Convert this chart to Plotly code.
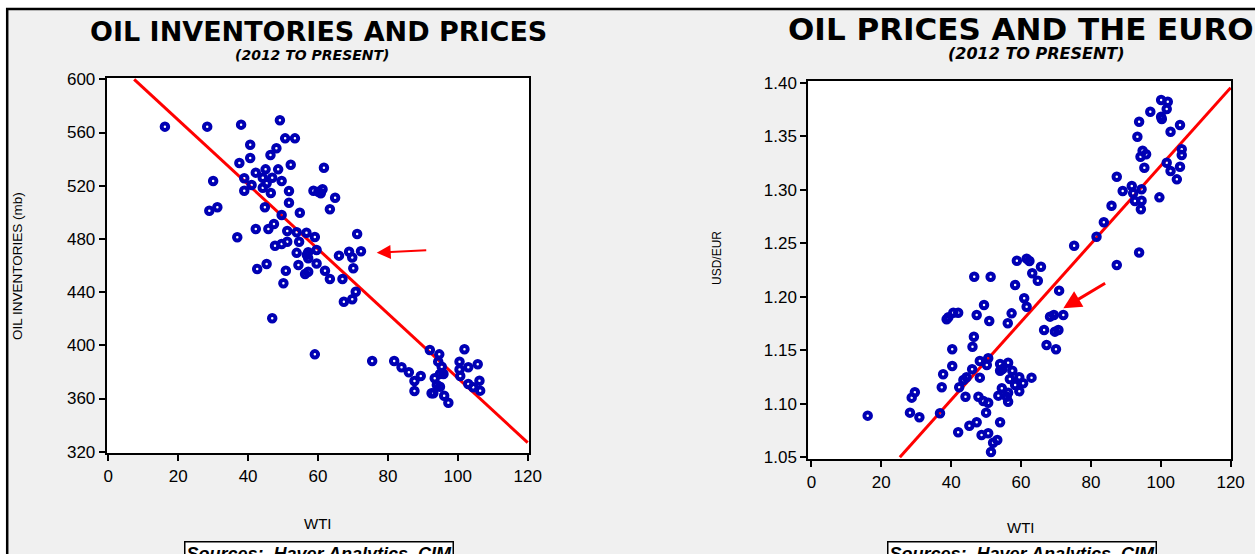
import plotly.graph_objects as go

# ---------------- data ----------------
inv_wti = [16.2, 28.3, 38.0, 49.1, 50.6, 53.4, 40.6, 48.1, 46.4, 40.6, 37.5, 52.2, 42.2, 45.0, 48.6,
           30.0, 38.9, 44.2, 46.9, 49.6, 45.3, 41.0, 44.2, 46.5, 38.9, 51.7, 58.7, 60.1, 61.3, 61.7,
           64.9, 63.4, 54.8, 28.9, 31.2, 51.7, 44.8, 49.6, 47.4, 45.8, 42.2, 51.2, 36.9, 53.9, 56.7,
           59.1, 54.6, 47.7, 49.6, 51.2, 53.9, 57.2, 59.6, 57.2, 56.8, 59.6, 54.4, 57.2, 56.3, 42.6,
           45.3, 50.8, 50.1, 46.9, 59.1, 60.8, 71.2, 66.0, 68.9, 69.8, 72.3, 62.0, 63.4, 67.0, 70.1,
           70.8, 69.8, 67.4, 75.5, 81.8, 83.9, 86.0, 89.4, 87.6, 87.6, 92.0, 94.7, 94.4, 95.4, 94.9,
           93.4, 94.0, 93.0, 96.1, 97.3, 95.9, 94.9, 92.5, 101.9, 100.5, 103.0, 105.7, 100.5, 100.7,
           106.2, 103.0, 104.4, 106.4]
inv_mb = [564.4, 564.4, 565.9, 569.2, 555.6, 555.6, 550.8, 548.1, 543.1, 540.8, 537.1, 535.8, 529.8, 532.3, 532.3,
          523.5, 525.6, 526.0, 526.0, 523.5, 521.8, 520.5, 518.5, 514.5, 516.2, 516.0, 516.2, 515.5, 517.3, 533.5,
          511.0, 502.3, 499.7, 501.2, 503.8, 507.2, 503.8, 498.0, 491.2, 487.4, 487.4, 485.9, 481.2, 485.0, 484.6,
          481.4, 477.9, 474.9, 476.2, 477.9, 469.5, 470.0, 471.7, 465.4, 468.0, 461.5, 460.4, 455.3, 453.6, 457.4,
          461.1, 456.1, 446.6, 420.3, 393.2, 514.3, 483.7, 467.4, 470.4, 466.0, 470.7, 456.1, 449.8, 449.8, 457.9,
          440.3, 434.6, 432.8, 388.2, 388.2, 383.5, 379.7, 376.9, 373.2, 365.6, 396.5, 393.2, 387.7, 383.9, 378.4,
          375.2, 370.2, 363.9, 362.1, 356.8, 378.4, 368.9, 363.9, 397.0, 387.7, 383.5, 385.7, 381.9, 376.9,
          373.4, 370.9, 368.4, 365.9]

eur_wti = [100.1, 102.0, 101.7, 97.0, 100.1, 100.3, 105.5, 93.8, 102.8, 93.3, 94.8, 95.8, 94.2, 106.0, 106.0,
           101.7, 105.5, 102.8, 104.6, 95.3, 87.4, 91.7, 89.1, 94.5, 92.1, 92.6, 94.5, 94.3, 99.6, 85.9,
           83.7, 81.6, 75.2, 93.8, 87.4, 58.8, 61.6, 62.4, 65.7, 63.2, 64.8, 58.3, 60.9, 61.6, 70.9,
           57.3, 56.2, 68.3, 69.4, 72.1, 66.6, 69.7, 70.7, 67.3, 70.0, 56.3, 54.7, 57.5, 56.8, 59.5,
           63.0, 60.6, 58.3, 54.5, 56.3, 59.5, 55.9, 56.3, 54.0, 54.0, 53.5, 54.0, 46.6, 51.3, 49.4,
           47.3, 50.9, 38.7, 39.2, 40.6, 42.0, 46.5, 46.1, 40.3, 48.2, 50.6, 50.2, 40.3, 46.0, 37.7,
           44.4, 43.5, 48.2, 37.3, 42.3, 29.6, 28.7, 44.1, 47.8, 49.2, 50.6, 50.0, 16.1, 28.2, 30.9,
           36.8, 45.2, 47.3, 42.0, 48.7, 50.6, 52.0, 53.2, 51.4]
eur_usd = [1.3838, 1.3822, 1.3754, 1.3729, 1.3682, 1.3661, 1.3605, 1.3636, 1.3542, 1.3495, 1.3365, 1.3331, 1.3309, 1.3378, 1.3324,
           1.3253, 1.3215, 1.3175, 1.3097, 1.3206, 1.3122, 1.3035, 1.2988, 1.3004, 1.2967, 1.2895, 1.2897, 1.2817, 1.2929, 1.2851,
           1.2696, 1.2561, 1.2477, 1.2414, 1.2297, 1.2337, 1.2356, 1.2334, 1.2281, 1.2219, 1.2150, 1.2110, 1.1986, 1.1907, 1.2057,
           1.1845, 1.1752, 1.1814, 1.1830, 1.1830, 1.1689, 1.1674, 1.1689, 1.1549, 1.1509, 1.1384, 1.1325, 1.1309, 1.1232, 1.1248,
           1.1244, 1.1191, 1.1176, 1.1145, 1.1104, 1.1117, 1.1066, 1.1019, 1.1372, 1.1309, 1.1076, 1.0827, 1.2187, 1.2187, 1.1923,
           1.1830, 1.1774, 1.1789, 1.1808, 1.1851, 1.1851, 1.1627, 1.1533, 1.1509, 1.1400, 1.1425, 1.1362, 1.1353, 1.1322, 1.1276,
           1.1248, 1.1222, 1.1244, 1.1154, 1.1154, 1.1107, 1.1057, 1.1066, 1.1066, 1.1026, 1.1010, 1.0917, 1.0889, 1.0917, 1.0874,
           1.0911, 1.0795, 1.0827, 1.0734, 1.0708, 1.0724, 1.0636, 1.0662, 1.0550]

# fitted regression lines (end points)
inv_fit_wti = [7.4, 120.0]
inv_fit_mb = [600.0, 326.8]
eur_fit_wti = [25.3, 120.0]
eur_fit_usd = [1.05, 1.3953]

x_ticks = [0, 20, 40, 60, 80, 100, 120]
inv_ticks = [320, 360, 400, 440, 480, 520, 560, 600]
eur_ticks = [1.05, 1.10, 1.15, 1.20, 1.25, 1.30, 1.35, 1.40]

W, H = 1255, 554
BLUE = "#0000b4"
RED = "#ff0000"
TICKFONT = dict(family="Liberation Sans, Arial", size=17, color="black")


def px(x):
    return x / W


def py(y):
    return 1 - y / H


fig = go.Figure()
marker = dict(symbol="circle-open", size=6.5, color=BLUE, line=dict(width=4, color=BLUE))

fig.add_trace(go.Scatter(x=inv_fit_wti, y=inv_fit_mb, mode="lines", line=dict(color=RED, width=3),
                         xaxis="x", yaxis="y", showlegend=False, hoverinfo="skip"))
fig.add_trace(go.Scatter(x=inv_wti, y=inv_mb, mode="markers", marker=marker,
                         xaxis="x", yaxis="y", showlegend=False))
fig.add_trace(go.Scatter(x=eur_fit_wti, y=eur_fit_usd, mode="lines", line=dict(color=RED, width=3),
                         xaxis="x2", yaxis="y2", showlegend=False, hoverinfo="skip"))
fig.add_trace(go.Scatter(x=eur_wti, y=eur_usd, mode="markers", marker=marker,
                         xaxis="x2", yaxis="y2", showlegend=False))

axis_common = dict(showline=True, linecolor="black", linewidth=2, mirror=True, ticks="outside",
                   ticklen=6, tickwidth=2, tickcolor="black", showgrid=False, zeroline=False,
                   tickfont=TICKFONT, automargin=False)

fig.update_layout(
    template="none",
    width=W, height=H, margin=dict(l=0, r=0, t=0, b=0, pad=0), autosize=False,
    paper_bgcolor="#f0f0f0", plot_bgcolor="white",
    xaxis=dict(domain=[px(106.7), px(529.3)], range=[-0.46, 120.46], tickvals=x_ticks,
               anchor="y", **axis_common),
    yaxis=dict(domain=[py(453.3), py(77.7)], range=[318.8, 601.2], tickvals=inv_ticks,
               anchor="x", **axis_common),
    xaxis2=dict(domain=[px(808.3), px(1231)], range=[-0.9, 120.1], tickvals=x_ticks,
                anchor="y2", **axis_common),
    yaxis2=dict(domain=[py(459.3), py(80.7)], range=[1.0481, 1.4019], tickvals=eur_ticks,
                tickformat=".2f", anchor="x2", **axis_common),
)

ann = []
# titles
ann.append(dict(text="<b>OIL INVENTORIES AND PRICES</b>", x=px(318), y=py(31), xref="paper", yref="paper",
                showarrow=False, xanchor="center", yanchor="middle",
                font=dict(family="DejaVu Sans", size=27, color="black")))
ann.append(dict(text="<b><i>(2012 TO PRESENT)</i></b>", x=px(312), y=py(55), xref="paper", yref="paper",
                showarrow=False, xanchor="center", yanchor="middle",
                font=dict(family="DejaVu Sans", size=14, color="black")))
ann.append(dict(text="<b>OIL PRICES AND THE EURO</b>", x=px(786), y=py(29), xref="paper", yref="paper",
                showarrow=False, xanchor="left", yanchor="middle",
                font=dict(family="DejaVu Sans", size=31, color="black")))
ann.append(dict(text="<b><i>(2012 TO PRESENT)</i></b>", x=px(1036), y=py(53), xref="paper", yref="paper",
                showarrow=False, xanchor="center", yanchor="middle",
                font=dict(family="DejaVu Sans", size=16, color="black")))
# axis titles
ann.append(dict(text="OIL INVENTORIES (mb)", x=px(18), y=py(266), xref="paper", yref="paper",
                showarrow=False, textangle=-90, xanchor="center", yanchor="middle",
                font=dict(family="Liberation Sans, Arial", size=13.5, color="black")))
ann.append(dict(text="WTI", x=px(318), y=py(523), xref="paper", yref="paper",
                showarrow=False, xanchor="center", yanchor="middle",
                font=dict(family="Liberation Sans, Arial", size=15, color="black")))
ann.append(dict(text="USD/EUR", x=px(717), y=py(258), xref="paper", yref="paper",
                showarrow=False, textangle=-90, xanchor="center", yanchor="middle",
                font=dict(family="Liberation Sans, Arial", size=12, color="black")))
ann.append(dict(text="WTI", x=px(1021), y=py(527), xref="paper", yref="paper",
                showarrow=False, xanchor="center", yanchor="middle",
                font=dict(family="Liberation Sans, Arial", size=15, color="black")))
# sources
for cx in (319, 1022):
    ann.append(dict(text="<b><i>Sources:\u00a0 Haver Analytics, CIM</i></b>", x=px(cx), y=py(541),
                    xref="paper", yref="paper", showarrow=False, xanchor="center", yanchor="top",
                    bgcolor="white", bordercolor="black", borderwidth=1.5, borderpad=1,
                    font=dict(family="Liberation Sans, Arial", size=18, color="black")))
# arrows
ann.append(dict(x=76.8, y=469.6, ax=91.4, ay=471.6, xref="x", yref="y", axref="x", ayref="y",
                text="", showarrow=True, arrowhead=2, arrowsize=1.4, arrowwidth=2, arrowcolor=RED))
ann.append(dict(x=72.1, y=1.1892, ax=84.5, ay=1.2135, xref="x2", yref="y2", axref="x2", ayref="y2",
                text="", showarrow=True, arrowhead=2, arrowsize=1.2, arrowwidth=3, arrowcolor=RED))
fig.update_layout(annotations=ann)

# outer frame (white strip, black border lines)
fig.update_layout(shapes=[
    dict(type="rect", xref="paper", yref="paper", x0=0, x1=1, y0=py(8), y1=1, fillcolor="white",
         line=dict(width=0), layer="below"),
    dict(type="rect", xref="paper", yref="paper", x0=0, x1=px(6), y0=0, y1=1, fillcolor="white",
         line=dict(width=0), layer="below"),
    dict(type="line", xref="paper", yref="paper", x0=px(6), x1=1, y0=py(9), y1=py(9),
         line=dict(color="black", width=2.5)),
    dict(type="line", xref="paper", yref="paper", x0=px(7.2), x1=px(7.2), y0=0, y1=py(8),
         line=dict(color="black", width=2.5)),
])

fig.write_html("out.html", config={"displayModeBar": False},
               post_script="document.body.style.margin='0';document.body.style.overflow='hidden';")
